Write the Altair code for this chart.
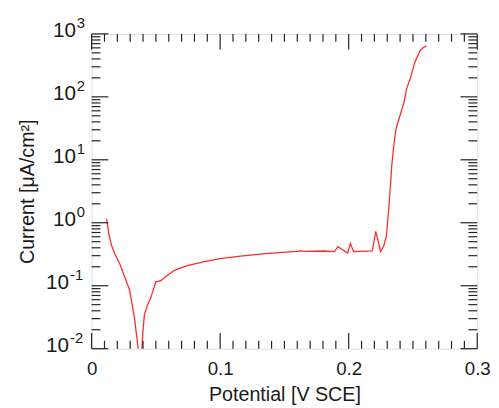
import altair as alt
import pandas as pd

# ---- data ----
potential = [0.0117, 0.0135, 0.0156, 0.0181, 0.0220, 0.0258, 0.0296, 0.0316, 0.0334, 0.0347,
             0.0360, 0.0372, 0.0386, 0.0398, 0.0411, 0.0431, 0.0462, 0.0500, 0.0538, 0.0589,
             0.0640, 0.0742, 0.0870, 0.0997, 0.1176, 0.1355, 0.1560, 0.1600, 0.1630, 0.1660,
             0.1810, 0.1890, 0.1916, 0.1955, 0.1992, 0.2013, 0.2038, 0.2184, 0.2210, 0.2227,
             0.2248, 0.2273, 0.2293, 0.2311, 0.2324, 0.2336, 0.2355, 0.2370, 0.2400, 0.2431,
             0.2451, 0.2482, 0.2515, 0.2554, 0.2579, 0.2604]
current = [1.15, 0.65, 0.43, 0.32, 0.22, 0.137, 0.085, 0.049, 0.030, 0.018,
           0.011, 0.006, 0.006, 0.018, 0.035, 0.047, 0.066, 0.115, 0.120, 0.145,
           0.174, 0.209, 0.240, 0.270, 0.297, 0.324, 0.347, 0.350, 0.357, 0.350,
           0.356, 0.347, 0.417, 0.370, 0.331, 0.468, 0.347, 0.356, 0.730, 0.540,
           0.347, 0.430, 0.620, 1.58, 3.7, 8.5, 20.0, 32.0, 51.0, 83.0,
           135.0, 204.0, 355.0, 537.0, 603.0, 646.0]

x_major = [0.0, 0.1, 0.2, 0.3]
x_minor = [0.01, 0.02, 0.03, 0.04, 0.05, 0.06, 0.07, 0.08, 0.09,
           0.11, 0.12, 0.13, 0.14, 0.15, 0.16, 0.17, 0.18, 0.19,
           0.21, 0.22, 0.23, 0.24, 0.25, 0.26, 0.27, 0.28, 0.29]
y_exponents = [-2, -1, 0, 1, 2, 3]
y_major = [0.01, 0.1, 1, 10, 100, 1000]
y_minor = [m * 10.0 ** k for k in range(-2, 3) for m in range(2, 10)]

W, H = 392, 320
FONT = "Liberation Sans"
TXT = "#1a1a1a"

df = pd.DataFrame({"V": potential, "I": current})
xs = alt.Scale(domain=[0, 0.3], nice=False, zero=False)
ys = alt.Scale(type="log", domain=[0.01, 1000], nice=False)

x_axis = alt.Axis(values=x_major, format=".1~f", ticks=False, domain=False, grid=False,
                  labelFontSize=19, labelFont=FONT, labelColor=TXT, labelFlush=False,
                  labelOverlap=False, labelBaseline="alphabetic", labelPadding=26,
                  title="Potential [V SCE]", titleFontSize=20, titleFont=FONT,
                  titleFontWeight="normal", titleColor=TXT, titleBaseline="alphabetic",
                  titleY=53)
y_axis = alt.Axis(labels=False, ticks=False, domain=False, grid=False,
                  title="Current [μA/cm²]", titleFontSize=20, titleFont=FONT,
                  titleFontWeight="normal", titleColor=TXT, titleAngle=270,
                  titleBaseline="alphabetic", titleAlign="center", titleX=-59, titleY=H / 2)


def X(field):
    return alt.X(field, scale=xs, axis=x_axis, title="Potential [V SCE]")


def Y(field):
    return alt.Y(field, scale=ys, axis=y_axis, title="Current [μA/cm²]")


line = alt.Chart(df).mark_line(color="#ff2a2a", strokeWidth=1.3, clip=True).encode(
    x=X("V:Q"), y=Y("I:Q"), order="V:Q",
)

TICK = "#222222"
xmaj = pd.DataFrame({"t": x_major})
xmin = pd.DataFrame({"t": x_minor})
ymaj = pd.DataFrame({"t": y_major})
ymin = pd.DataFrame({"t": y_minor})


def xticks(data, length):
    bottom = alt.Chart(data).mark_rule(color=TICK, strokeWidth=1.2).encode(
        x=X("t:Q"), y=alt.value(H), y2=alt.value(H - length))
    top = alt.Chart(data).mark_rule(color=TICK, strokeWidth=1.2).encode(
        x=X("t:Q"), y=alt.value(0), y2=alt.value(length))
    return [bottom, top]


def yticks(data, length):
    left = alt.Chart(data).mark_rule(color=TICK, strokeWidth=1.2).encode(
        y=Y("t:Q"), x=alt.value(0), x2=alt.value(length))
    right = alt.Chart(data).mark_rule(color=TICK, strokeWidth=1.2).encode(
        y=Y("t:Q"), x=alt.value(W), x2=alt.value(W - length))
    return [left, right]


edf = pd.DataFrame({"e": y_exponents})
base = alt.Chart(edf).transform_calculate(
    val="pow(10, datum.e)", ex="datum.e < 0 ? '-' + abs(datum.e) : '' + datum.e")


def ylabel(cond, xbase):
    ten = base.transform_filter(cond).mark_text(
        align="right", baseline="alphabetic", fontSize=21, font=FONT, color=TXT, dy=3
    ).encode(y=Y("val:Q"), x=alt.value(xbase), text=alt.value("10"))
    ex = base.transform_filter(cond).mark_text(
        align="left", baseline="alphabetic", fontSize=15, font=FONT, color=TXT, dy=-6
    ).encode(y=Y("val:Q"), x=alt.value(xbase + 1), text="ex:N")
    return [ten, ex]


layers = ([line] + xticks(xmaj, 16) + xticks(xmin, 8) + yticks(ymaj, 17) + yticks(ymin, 9)
          + ylabel("datum.e >= 0", -16) + ylabel("datum.e < 0", -23))

chart = alt.layer(*layers).properties(
    width=W, height=H,
    autosize=alt.AutoSizeParams(type="none"),
    padding={"left": 85, "top": 23, "right": 14, "bottom": 57},
).configure_view(stroke="#111111", strokeWidth=1.2).configure(background="white")

chart.save("out.html", embed_options={"renderer": "svg", "actions": False})
